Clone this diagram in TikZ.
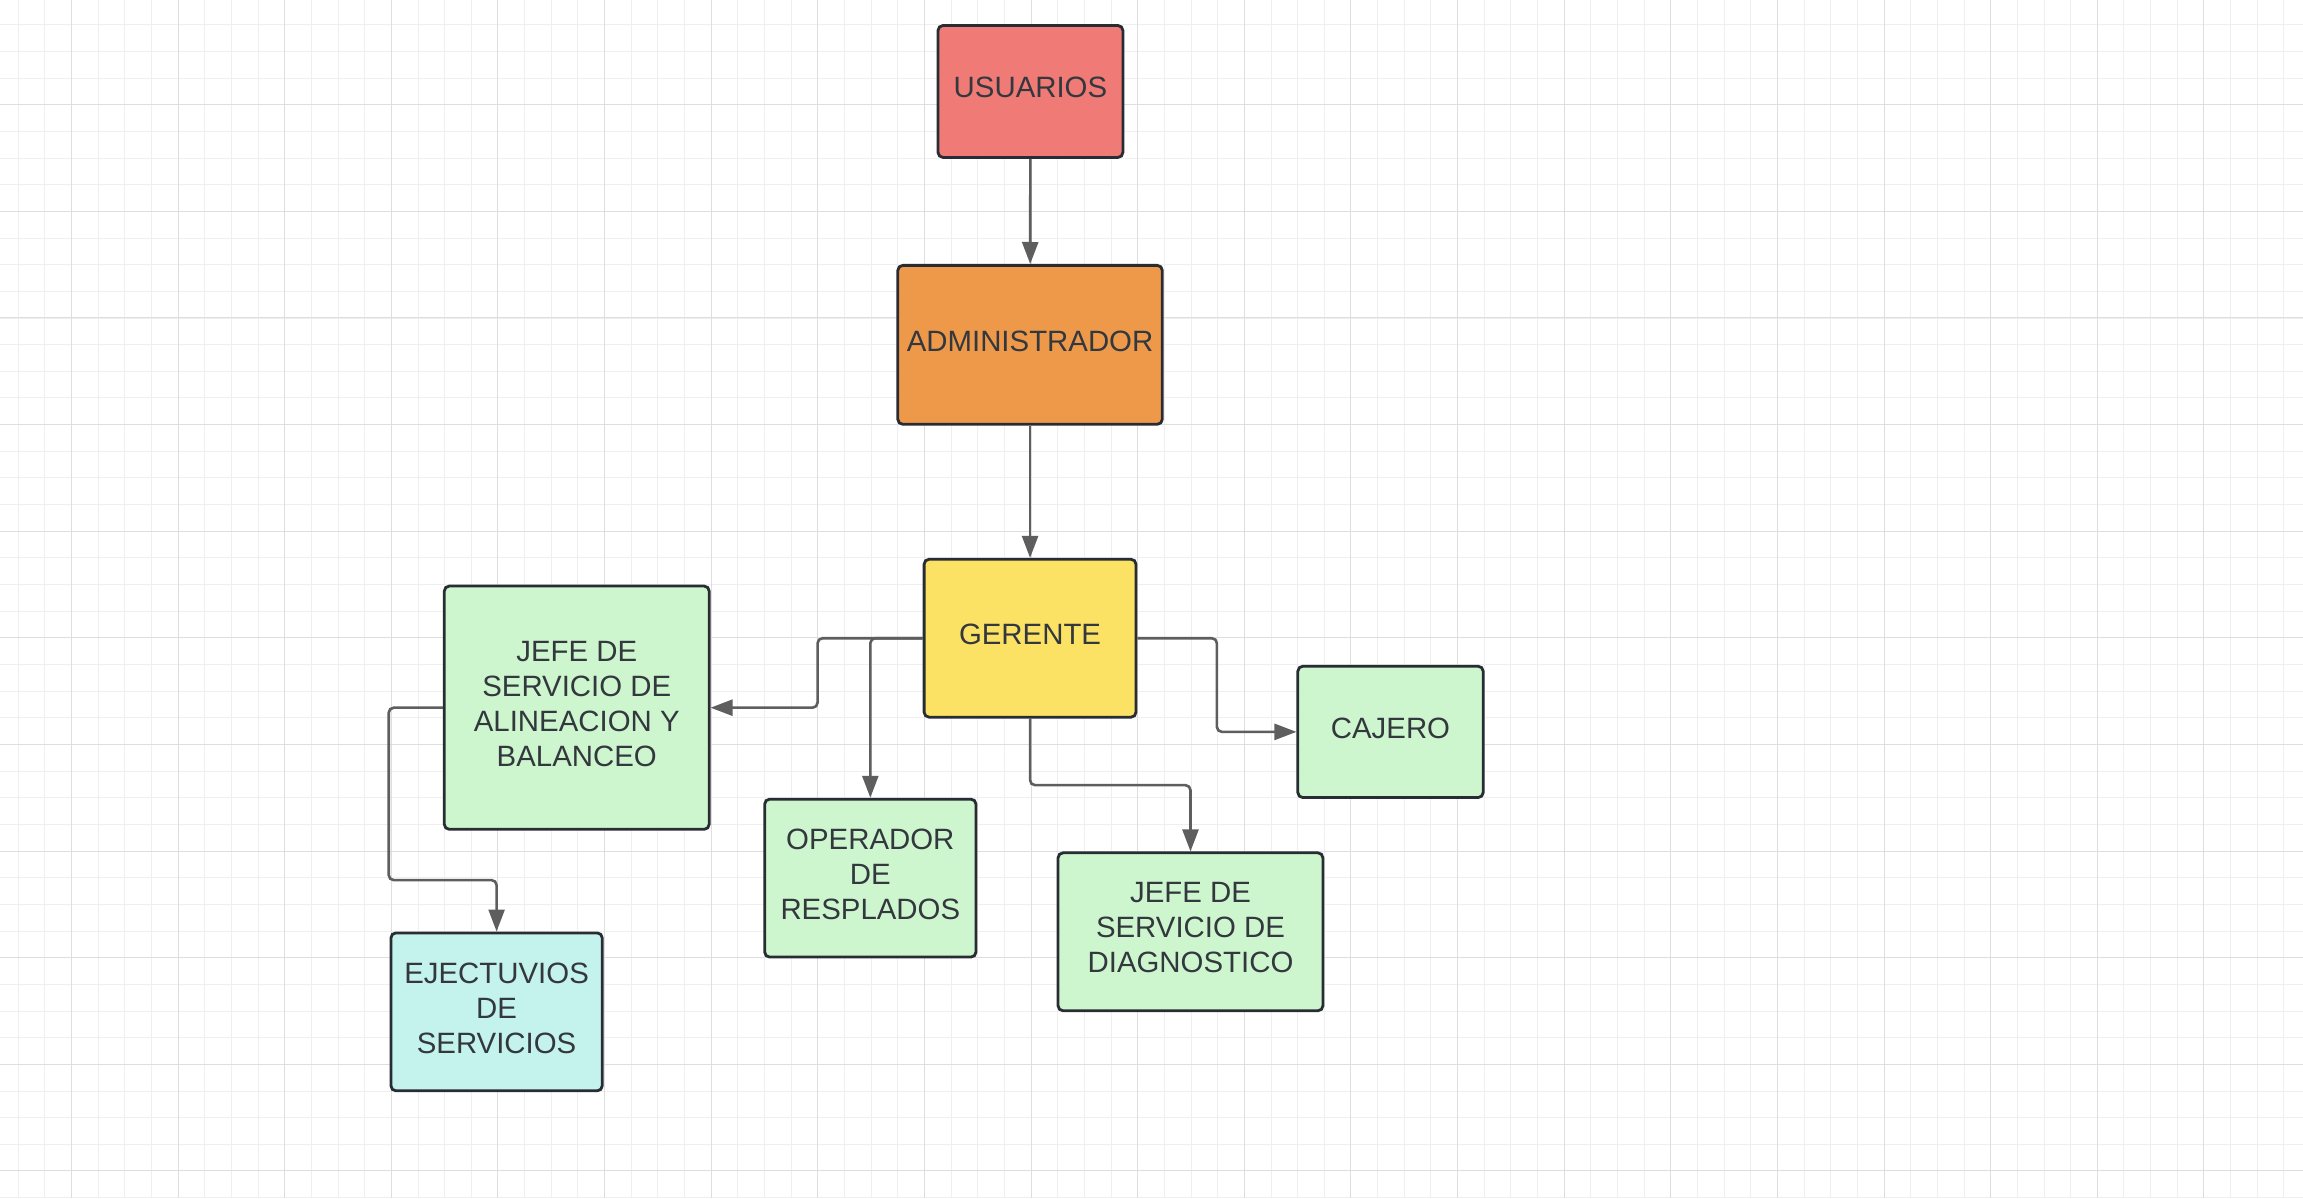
\documentclass[tikz,border=0pt]{standalone}
\usepackage{fontspec}
\setmainfont{Liberation Sans}
\usepackage{xcolor}
\definecolor{redbox}{RGB}{239, 122, 118}
\definecolor{orangebox}{RGB}{238, 153, 74}
\definecolor{yellowbox}{RGB}{251, 225, 100}
\definecolor{greenbox}{RGB}{206, 246, 206}
\definecolor{cyanbox}{RGB}{196, 242, 236}
\definecolor{boxframe}{RGB}{40, 44, 51}
\definecolor{linkgray}{RGB}{94, 94, 94}
\definecolor{textdark}{RGB}{51, 56, 62}
\definecolor{gridminor}{RGB}{239, 239, 239}
\definecolor{gridmajor}{RGB}{222, 222, 222}
\usepackage{tikz}
\usetikzlibrary{
    arrows.meta,
    positioning,
    calc
}
\tikzstyle{arrow} = [
    -{Triangle[length=11pt, width=8pt]},
    draw=linkgray,
    line width=1.3pt,
    rounded corners=2.5pt
]
\tikzstyle{role} = [
    rectangle,
    rounded corners=2.5pt,
    draw=boxframe,
    line width=1.4pt,
    align=center,
    text=textdark,
    text depth=4pt,
    font=\fontsize{14.7}{17.5}\selectfont
]

\begin{document}
\begin{tikzpicture}[x=0.5pt, y=-0.5pt]
    % Background
    \fill[white] (0,0) rectangle (2303,1198);

    % Grid
    \foreach \i in {0,...,85}
        \draw[gridminor, line width=0.5pt] ({17.7+26.667*\i},0) -- ({17.7+26.667*\i},1198);
    \foreach \j in {0,...,44}
        \draw[gridminor, line width=0.5pt] (0,{24.3+26.667*\j}) -- (2303,{24.3+26.667*\j});
    \foreach \i in {0,...,20}
        \draw[gridmajor, line width=0.5pt] ({71+106.667*\i},0) -- ({71+106.667*\i},1198);
    \foreach \j in {0,...,10}
        \draw[gridmajor, line width=0.5pt] (0,{104.3+106.667*\j}) -- (2303,{104.3+106.667*\j});

    % Roles
    \node[role, fill=redbox, minimum width=92.5pt, minimum height=66pt] (usuarios) at (1030.4,91) {USUARIOS};
    \node[role, fill=orangebox, minimum width=132.3pt, minimum height=79.5pt] (admin) at (1030,344.5) {ADMINISTRADOR};
    \node[role, fill=yellowbox, minimum width=106pt, minimum height=79pt] (gerente) at (1030,638) {GERENTE};
    \node[role, fill=greenbox, minimum width=92.7pt, minimum height=65.7pt] (cajero) at (1390.6,731.7) {CAJERO};
    \node[role, fill=greenbox, minimum width=132.5pt, minimum height=79pt] (diag) at (1190.5,931.7) {JEFE DE\\SERVICIO DE\\DIAGNOSTICO};
    \node[role, fill=greenbox, minimum width=105.7pt, minimum height=79pt] (operador) at (870.2,878) {OPERADOR\\DE\\RESPLADOS};
    \node[role, fill=greenbox, minimum width=132.5pt, minimum height=121.7pt] (alinea) at (576.5,707.5) {JEFE DE\\SERVICIO DE\\ALINEACION Y\\BALANCEO};
    \node[role, fill=cyanbox, minimum width=105.7pt, minimum height=79pt] (ejec) at (496.3,1011.8) {EJECTUVIOS\\DE\\SERVICIOS};

    % Bend points
    \coordinate (leftsplit) at (817.4,638);
    \coordinate (rightsplit) at (1216.9,638);
    \coordinate (downsplit) at (1030,785);
    \coordinate (ejecbend) at (388.4,880);

    % Links
    \draw[arrow] (usuarios) -- (admin);
    \draw[arrow] (admin) -- (gerente);
    \draw[arrow] (gerente.west) -- (leftsplit) |- (alinea.east);
    \draw[arrow] (gerente.west) -| (operador.north);
    \draw[arrow] (gerente.east) -- (rightsplit) |- (cajero.west);
    \draw[arrow] (gerente.south) -- (downsplit) -| (diag.north);
    \draw[arrow] (alinea.west) -| (ejecbend) -| (ejec.north);
\end{tikzpicture}
\end{document}
